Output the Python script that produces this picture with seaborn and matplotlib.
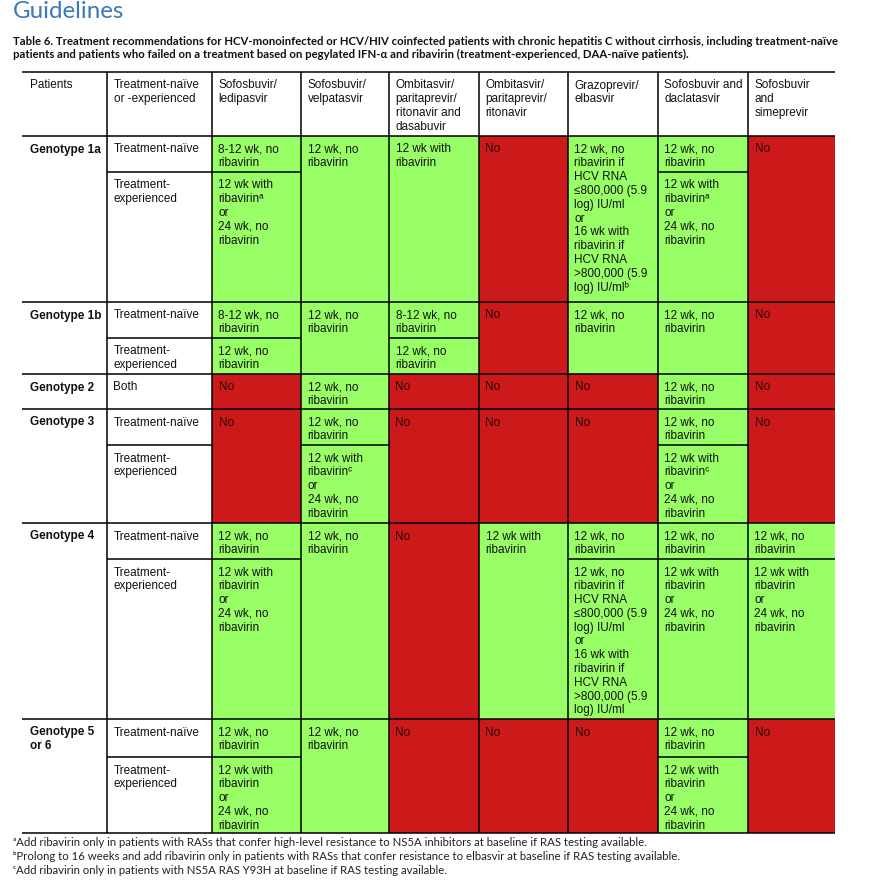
import numpy as np
import pandas as pd
import seaborn as sns
import matplotlib.pyplot as plt

sns.set_theme(style="white")
plt.rcParams["font.family"] = ["Liberation Sans", "DejaVu Sans"]

# --- texts ---
title = "Guidelines"
caption = [
    "Table 6. Treatment recommendations for HCV-monoinfected or HCV/HIV coinfected patients with chronic hepatitis C without cirrhosis, including treatment-naïve",
    "patients and patients who failed on a treatment based on pegylated IFN-α and ribavirin (treatment-experienced, DAA-naïve patients).",
]
footnotes = [
    "ᵃAdd ribavirin only in patients with RASs that confer high-level resistance to NS5A inhibitors at baseline if RAS testing available.",
    "ᵇProlong to 16 weeks and add ribavirin only in patients with RASs that confer resistance to elbasvir at baseline if RAS testing available.",
    "ᶜAdd ribavirin only in patients with NS5A RAS Y93H at baseline if RAS testing available.",
]

header_left = ["Patients", "Treatment-naïve\nor -experienced"]
drugs = [
    "Sofosbuvir/\nledipasvir",
    "Sofosbuvir/\nvelpatasvir",
    "Ombitasvir/\nparitaprevir/\nritonavir and\ndasabuvir",
    "Ombitasvir/\nparitaprevir/\nritonavir",
    "Grazoprevir/\nelbasvir",
    "Sofosbuvir and\ndaclatasvir",
    "Sofosbuvir\nand\nsimeprevir",
]

genotypes = ["Genotype 1a", "Genotype 1b", "Genotype 2", "Genotype 3", "Genotype 4", "Genotype 5\nor 6"]
two_groups = ["Treatment-naïve", "Treatment-\nexperienced"]
treatments = [two_groups, two_groups, ["Both"], two_groups, two_groups, two_groups]

# recommendations
NO = "No"
NR = "12 wk, no\nribavirin"
NR812 = "8-12 wk, no\nribavirin"
WR = "12 wk with\nribavirin"
OR24 = "12 wk with\nribavirin\nor\n24 wk, no\nribavirin"
OR24a = "12 wk with\nribavirinᵃ\nor\n24 wk, no\nribavirin"
OR24c = "12 wk with\nribavirinᶜ\nor\n24 wk, no\nribavirin"
GRZ = ("12 wk, no\nribavirin if\nHCV RNA\n≤800,000 (5.9\nlog) IU/ml\nor\n"
       "16 wk with\nribavirin if\nHCV RNA\n>800,000 (5.9\nlog) IU/ml")
GRZb = GRZ + "ᵇ"

# one entry per drug; a list means naive / experienced differ
g1a = [[NR812, OR24a], NR, WR, NO, GRZb, [NR, OR24a], NO]
g1b = [[NR812, NR], NR, [NR812, NR], NO, NR, NR, NO]
g2 = [NO, NR, NO, NO, NO, NR, NO]
g3 = [NO, [NR, OR24c], NO, NO, NO, [NR, OR24c], NO]
g4 = [[NR, OR24], NR, NO, WR, [NR, GRZ], [NR, OR24], [NR, OR24]]
g56 = [[NR, OR24], NR, NO, NO, NO, [NR, OR24], NO]
grid = [g1a, g1b, g2, g3, g4, g56]

# --- layout (pixels) ---
col_edges = [22, 107, 212, 301, 389, 479, 568, 658, 748, 835]
head_top, head_bot = 72, 136
geno_rows = [(136, 172, 302), (302, 338, 374), (374, None, 409),
             (409, 445, 523), (523, 559, 719), (719, 757, 833)]
step, base_off, pad = 13.8, 16.5, 6.5
GREEN, RED = "#99FF66", "#CC1A1A"
FS = 8.5
CELL_FONT = ["Liberation Sans", "DejaVu Sans"]

fig = plt.figure(figsize=(8.76, 8.85), dpi=100)
ax = fig.add_axes([0, 0, 1, 1])
ax.set_xlim(0, 876)
ax.set_ylim(885, 0)
ax.axis("off")

records = []
for cells, (top, mid, bot) in zip(grid, geno_rows):
    for ci, entry in enumerate(cells):
        x0, x1 = col_edges[ci + 2], col_edges[ci + 3]
        parts = [(top, mid, entry[0]), (mid, bot, entry[1])] if isinstance(entry, list) else [(top, bot, entry)]
        for y0, y1, txt in parts:
            records.append(dict(x0=x0, x1=x1, y0=y0, y1=y1, text=txt, ok=txt != NO))
cells_df = pd.DataFrame(records)

ax.bar(cells_df.x0, cells_df.y1 - cells_df.y0, width=cells_df.x1 - cells_df.x0,
       bottom=cells_df.y0, align="edge", color=np.where(cells_df.ok, GREEN, RED), linewidth=0)


def put_lines(x, top, s, **kw):
    for i, ln in enumerate(s.split("\n")):
        ax.text(x, top + base_off + i * step, ln, va="baseline", ha="left", family=CELL_FONT, **kw)


for _, r in cells_df.iterrows():
    put_lines(r.x0 + pad, r.y0, r.text, fontsize=FS, color="#111111" if r.ok else "#2a0505")

# header
put_lines(col_edges[0] + 8, head_top, header_left[0], fontsize=FS, color="#111111")
put_lines(col_edges[1] + pad, head_top, header_left[1], fontsize=FS, color="#111111")
for ci, d in enumerate(drugs):
    put_lines(col_edges[ci + 2] + pad, head_top, d, fontsize=FS, color="#111111")

# genotype / treatment columns
for g, tr, (top, mid, bot) in zip(genotypes, treatments, geno_rows):
    put_lines(col_edges[0] + 8.5, top, g, fontsize=FS, fontweight="bold", color="#111111")
    put_lines(col_edges[1] + pad, top, tr[0], fontsize=FS, color="#111111")
    if mid is not None:
        put_lines(col_edges[1] + pad, mid, tr[1], fontsize=FS, color="#111111")

# rules
LW = 1.1
full_rows = [head_top, head_bot] + [b for _, _, b in geno_rows]
ax.hlines(full_rows, col_edges[0], col_edges[-1], color="black", lw=LW)
ax.vlines(col_edges[1:-1], head_top, geno_rows[-1][2], color="black", lw=LW)
for cells, (top, mid, bot) in zip(grid, geno_rows):
    if mid is None:
        continue
    ax.hlines(mid, col_edges[1], col_edges[2], color="black", lw=LW)
    for ci, entry in enumerate(cells):
        if isinstance(entry, list):
            ax.hlines(mid, col_edges[ci + 2], col_edges[ci + 3], color="black", lw=LW)

# title, caption, footnotes sized to their width in the reference
renderer = fig.canvas.get_renderer()


def fit(t, width):
    w = t.get_window_extent(renderer).width
    t.set_fontsize(t.get_fontsize() * width / w)
    return t.get_fontsize()


t = ax.text(13, 18.3, title, fontsize=20, family="Lato", color="#3a78b8", va="baseline")
fit(t, 112)

t1 = ax.text(13, 45, caption[0], fontsize=8, family="Lato", fontweight="bold", color="#111111", va="baseline")
cs = fit(t1, 829)
ax.text(13, 58.5, caption[1], fontsize=cs, family="Lato", fontweight="bold", color="#111111", va="baseline")

NOTE_FONT = ["Lato", "DejaVu Sans"]
f1 = ax.text(13, 846.5, footnotes[0], fontsize=7, family=NOTE_FONT, color="#222222", va="baseline")
fsz = fit(f1, 635)
for y, s in zip([860, 873.5], footnotes[1:]):
    ax.text(13, y, s, fontsize=fsz, family=NOTE_FONT, color="#222222", va="baseline")

fig.savefig("out.png", dpi=100)
